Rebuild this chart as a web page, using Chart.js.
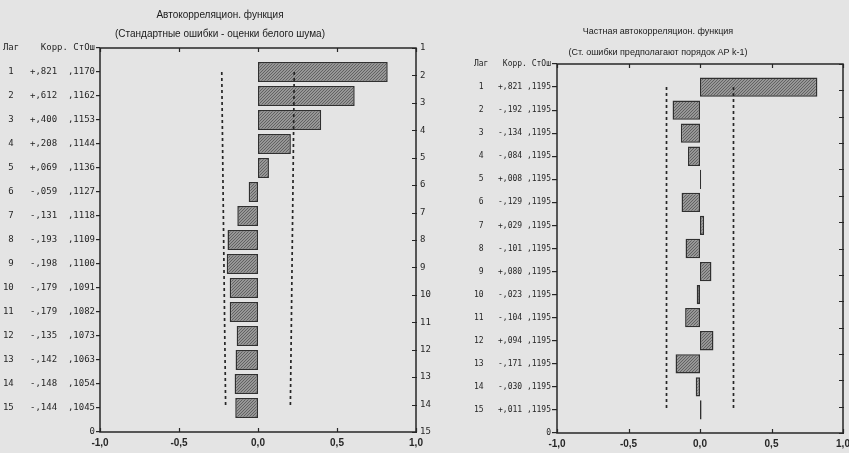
<!DOCTYPE html>
<html lang="ru">
<head>
<meta charset="utf-8">
<title>Автокорреляцион. функция</title>
<script src="https://cdn.jsdelivr.net/npm/chart.js@4.4.1/dist/chart.umd.min.js"></script>
<style>
    html, body { margin: 0; padding: 0; background: #e4e4e4; overflow: hidden; }
    body { width: 849px; height: 453px; position: relative; }
    canvas { position: absolute; top: 0; }
    #acfChart { left: 0; }
    #pacfChart { left: 467px; }
</style>
</head>
<body>
<canvas id="acfChart" width="440" height="453"></canvas>
<canvas id="pacfChart" width="392" height="453"></canvas>
<script>
// lags and correlation estimates
const lags = [1, 2, 3, 4, 5, 6, 7, 8, 9, 10, 11, 12, 13, 14, 15];
const acfValues = [0.821, 0.612, 0.400, 0.208, 0.069, -0.059, -0.131, -0.193, -0.198, -0.179, -0.179, -0.135, -0.142, -0.148, -0.144];
const acfErrors = [0.1170, 0.1162, 0.1153, 0.1144, 0.1136, 0.1127, 0.1118, 0.1109, 0.1100, 0.1091, 0.1082, 0.1073, 0.1063, 0.1054, 0.1045];
const pacfValues = [0.821, -0.192, -0.134, -0.084, 0.008, -0.129, 0.029, -0.101, 0.080, -0.023, -0.104, 0.094, -0.171, -0.030, 0.011];
const pacfErrors = [0.1195, 0.1195, 0.1195, 0.1195, 0.1195, 0.1195, 0.1195, 0.1195, 0.1195, 0.1195, 0.1195, 0.1195, 0.1195, 0.1195, 0.1195];
const xTicks = [-1, -0.5, 0, 0.5, 1];
const rightTicks = [1, 2, 3, 4, 5, 6, 7, 8, 9, 10, 11, 12, 13, 14, 15];

const acfTitle = ['Автокорреляцион. функция', '(Стандартные ошибки - оценки белого шума)'];
const pacfTitle = ['Частная автокорреляцион. функция', '(Ст. ошибки предполагают порядок АР k-1)'];

const Z = 1.96;
const INK = '#262626';
const MONO = "'DejaVu Sans Mono', 'Liberation Mono', monospace";
const NARROW = "'Liberation Sans Narrow', 'Liberation Sans', Arial, sans-serif";

// +,821 / -,059 style
function fmtCorr(v) {
    return (v >= 0 ? '+' : '-') + ',' + Math.abs(v).toFixed(3).slice(2);
}
function fmtErr(v) {
    return ',' + v.toFixed(4).slice(2);
}

// grey cross-hatched fill used by the bars
function hatch(ctx) {
    const c = document.createElement('canvas');
    c.width = 3; c.height = 3;
    const g = c.getContext('2d');
    g.fillStyle = '#979797';
    g.fillRect(0, 0, 3, 3);
    g.fillStyle = '#626262';
    for (let i = 0; i < 3; i++) g.fillRect(i, 2 - i, 1, 1);
    return ctx.createPattern(c, 'repeat');
}

// plot frame plus inward ticks on top, bottom and right
const framePlugin = {
    id: 'frame',
    afterDraw(chart) {
        const { ctx, chartArea: a, scales } = chart;
        ctx.save();
        ctx.strokeStyle = INK;
        ctx.lineWidth = 1.5;
        ctx.strokeRect(a.left, a.top, a.right - a.left, a.bottom - a.top);
        ctx.lineWidth = 1.2;
        ctx.beginPath();
        scales.x.ticks.forEach(t => {
            const px = Math.round(scales.x.getPixelForValue(t.value)) + 0.5;
            ctx.moveTo(px, a.bottom); ctx.lineTo(px, a.bottom - 4);
            ctx.moveTo(px, a.top); ctx.lineTo(px, a.top + 4);
        });
        scales.y2.ticks.forEach(t => {
            const py = Math.round(scales.y2.getPixelForValue(t.value)) + 0.5;
            ctx.moveTo(a.right - 4, py); ctx.lineTo(a.right + 1, py);
        });
        ctx.stroke();
        ctx.restore();
    }
};

function createCorrChart(canvasId, o) {
    const ctx = document.getElementById(canvasId).getContext('2d');
    const rows = lags.map((lag, i) =>
        String(lag).padStart(2, ' ') + '   ' + fmtCorr(o.values[i]) + o.gap + fmtErr(o.errors[i]));
    const bound = (sign) => lags.map((lag, i) => ({ x: sign * Z * o.errors[i], y: lag }));
    const boundStyle = {
        type: 'line', indexAxis: 'y', borderColor: INK, borderWidth: 1.7,
        borderDash: [3, 3], pointRadius: 0, fill: false, order: 1
    };

    return new Chart(ctx, {
        type: 'bar',
        data: {
            datasets: [
                {
                    data: lags.map((lag, i) => ({ x: o.values[i], y: lag })),
                    backgroundColor: hatch(ctx),
                    borderColor: '#303030',
                    borderWidth: 1.5,
                    borderSkipped: false,
                    categoryPercentage: 1,
                    barPercentage: 0.84,
                    order: 2
                },
                { ...boundStyle, data: bound(-1) },
                { ...boundStyle, data: bound(1) }
            ]
        },
        options: {
            indexAxis: 'y',
            responsive: false,
            animation: false,
            devicePixelRatio: 1,
            layout: { padding: { left: 0, top: 0, bottom: 0, right: o.padRight } },
            plugins: {
                legend: { display: false },
                tooltip: { enabled: false },
                title: {
                    display: true,
                    text: o.title,
                    color: '#1a1a1a',
                    font: { family: NARROW, size: o.titleSize, weight: 'normal', lineHeight: o.titleLine / o.titleSize },
                    padding: o.titlePad
                }
            },
            scales: {
                x: {
                    type: 'linear', position: 'bottom', min: -1, max: 1, offset: false,
                    afterBuildTicks: s => { s.ticks = xTicks.map(v => ({ value: v })); },
                    ticks: {
                        callback: v => v.toFixed(1).replace('.', ','),
                        color: INK, padding: 5, maxRotation: 0,
                        font: { family: NARROW, size: 10, weight: 'bold' }
                    },
                    grid: { display: false, drawTicks: false },
                    border: { display: false },
                    afterFit: s => { s.height = o.xHeight; }
                },
                y: {
                    type: 'linear', position: 'left', min: 0, max: 16, reverse: true, offset: false,
                    afterBuildTicks: s => { s.ticks = [0, ...lags, 16].map(v => ({ value: v })); },
                    ticks: {
                        autoSkip: false, padding: 1, color: INK,
                        font: { family: MONO, size: o.monoSize },
                        callback: v => v === 0 ? o.header : (v === 16 ? '0' : rows[v - 1])
                    },
                    grid: { drawOnChartArea: false, offset: false, tickLength: o.tickLen, color: INK, lineWidth: 1.2 },
                    border: { display: false },
                    afterFit: s => { s.width = o.yWidth; }
                },
                y2: {
                    type: 'linear', position: 'right', min: 1, max: 15, reverse: true, offset: false,
                    afterBuildTicks: s => { s.ticks = rightTicks.map(v => ({ value: v })); },
                    ticks: {
                        display: o.rightLabels, autoSkip: false, padding: 4, color: INK,
                        font: { family: MONO, size: 9 }
                    },
                    grid: { display: false, drawTicks: false },
                    border: { display: false },
                    afterFit: s => { s.width = o.y2Width; }
                }
            }
        },
        plugins: [framePlugin]
    });
}

createCorrChart('acfChart', {
    values: acfValues, errors: acfErrors, title: acfTitle,
    header: 'Лаг    Корр. СтОш', gap: '  ',
    titleSize: 10, titleLine: 19, titlePad: { top: 6, bottom: 4 }, padRight: 0,
    monoSize: 9, tickLen: 4, yWidth: 100, y2Width: 24, xHeight: 21, rightLabels: true
});

createCorrChart('pacfChart', {
    values: pacfValues, errors: pacfErrors, title: pacfTitle,
    header: 'Лаг   Корр. СтОш', gap: ' ',
    titleSize: 9, titleLine: 21, titlePad: { top: 21, bottom: 1 }, padRight: 10,
    monoSize: 8, tickLen: 5, yWidth: 90, y2Width: 6, xHeight: 20, rightLabels: false
});
</script>
</body>
</html>
